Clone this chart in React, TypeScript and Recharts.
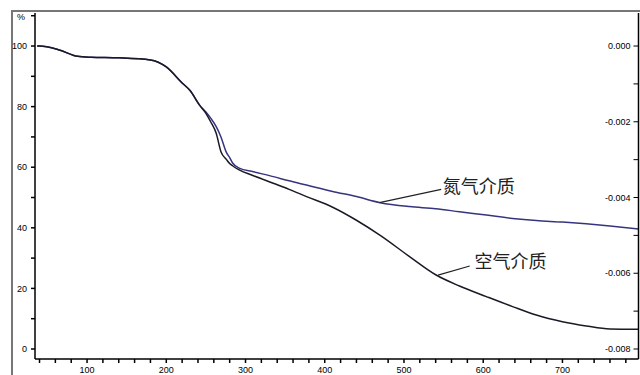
import { LineChart, Line, XAxis, YAxis, ReferenceLine, ReferenceDot } from 'recharts';

// TG curves: mass remaining (%) vs temperature (°C)
const temperature = [37, 40, 65, 88, 105, 140, 180, 200, 220, 230, 242, 250, 256, 263, 269, 276, 280, 284, 292, 310, 335, 355, 377, 410, 440, 470, 507, 540, 570, 604, 637, 667, 700, 730, 760, 796];
const nitrogen = [100, 100, 98.7, 96.6, 96.3, 96.1, 95.4, 93.1, 87.8, 85.3, 80.5, 78.2, 76.2, 73.4, 70.0, 64.8, 63.2, 61.3, 59.7, 58.5, 56.9, 55.5, 54.1, 52.0, 50.3, 48.3, 47.0, 46.3, 45.3, 44.2, 43.1, 42.4, 41.9, 41.3, 40.6, 39.6];
const air = [100, 100, 98.7, 96.6, 96.3, 96.1, 95.4, 93.1, 87.8, 85.3, 80.5, 77.8, 75.0, 71.2, 65.1, 62.5, 61.2, 60.4, 59.1, 57.2, 54.7, 52.7, 50.3, 46.8, 42.5, 37.5, 30.5, 24.5, 20.8, 17.3, 14.0, 11.2, 9.0, 7.6, 6.6, 6.5];

const xTicks = [40, 60, 80, 100, 120, 140, 160, 180, 200, 220, 240, 260, 280, 300, 320, 340, 360, 380, 400, 420, 440, 460, 480, 500, 520, 540, 560, 580, 600, 620, 640, 660, 680, 700, 720, 740, 760, 780];
const leftTicks = [0, 10, 20, 30, 40, 50, 60, 70, 80, 90, 100, 110];
// DTG scale (right): -0.008 lines up with 0 %, 0.000 with 100 %
const rightTicks = [-0.008, -0.007, -0.006, -0.005, -0.004, -0.003, -0.002, -0.001, 0];
const dtgToPct = (v: number) => (v + 0.008) * 12500;
const pctToDtg = (p: number) => p / 12500 - 0.008;

const labelN2 = '氮气介质';
const labelAir = '空气介质';

const data = temperature.map((t, i) => ({ t, nitrogen: nitrogen[i], air: air[i] }));

const FONT = 'Liberation Sans, Arial, sans-serif';
const tickStyle = { fontSize: 9, fill: '#000', fontFamily: FONT };
const pctDomain = [-3.3, 110.9];

// right-hand scale: ticks point into the plot, labels sit inside it
const InwardTick = (props: any) => {
  const { x, y, payload } = props;
  const v = pctToDtg(payload.value);
  const major = Math.round(Math.abs(v) * 1000) % 2 === 0;
  return (
    <g>
      <line x1={x - 5} y1={y} x2={x} y2={y} stroke="#000" strokeWidth={1} />
      {major && (
        <text x={x - 8} y={y} textAnchor="end" dominantBaseline="central" fontSize={9} fontFamily={FONT} fill="#000">
          {(Math.abs(v) < 1e-9 ? 0 : v).toFixed(3)}
        </text>
      )}
    </g>
  );
};

const calloutText = (text: string) => (props: any) => (
  <text
    x={props.cx}
    y={props.cy}
    dominantBaseline="middle"
    fontSize={18}
    fill="#222"
    fontFamily="'Noto Sans CJK SC', sans-serif"
  >
    {text}
  </text>
);

export default function App() {
  return (
    <div style={{ position: 'fixed', left: 0, top: 0, width: 640, height: 375, overflow: 'hidden', background: '#fff' }}>
      <div
        style={{
          position: 'absolute',
          left: 11,
          top: 10,
          right: 0,
          bottom: 0,
          borderLeft: '2px solid #777',
          borderTop: '2px solid #777',
        }}
      />
      <span style={{ position: 'absolute', left: 17, top: 12, fontSize: 9, fontFamily: FONT }}>%</span>
      <LineChart width={640} height={375} data={data} margin={{ top: 13, right: 0, bottom: 0, left: 0 }}>
        <XAxis
          dataKey="t"
          type="number"
          domain={[34.3, 796]}
          ticks={xTicks}
          tickFormatter={(v: number) => (v % 100 === 0 ? String(v) : '')}
          height={16}
          tickSize={4}
          tickMargin={4}
          tick={tickStyle}
          stroke="#000"
          strokeWidth={1.5}
          interval={0}
        />
        <YAxis
          yAxisId="l"
          domain={pctDomain}
          allowDataOverflow
          ticks={leftTicks}
          tickFormatter={(v: number) => (v % 20 === 0 ? String(v) : '')}
          width={35}
          tickSize={4}
          tickMargin={4}
          tick={tickStyle}
          stroke="#000"
          strokeWidth={1.5}
          interval={0}
        />
        <YAxis
          yAxisId="r"
          orientation="right"
          width={1.5}
          domain={pctDomain}
          allowDataOverflow
          ticks={rightTicks.map(dtgToPct)}
          tickLine={false}
          tickSize={0}
          tickMargin={0}
          tick={<InwardTick />}
          stroke="#000"
          strokeWidth={1.5}
          interval={0}
        />
        <Line yAxisId="l" type="monotone" dataKey="nitrogen" stroke="#35357f" strokeWidth={1.5} dot={false} isAnimationActive={false} />
        <Line yAxisId="r" type="monotone" dataKey="air" stroke="#1a1a26" strokeWidth={1.5} dot={false} isAnimationActive={false} />
        <ReferenceLine yAxisId="l" segment={[{ x: 469, y: 48.3 }, { x: 547, y: 52.7 }]} stroke="#222" strokeWidth={1.2} />
        <ReferenceLine yAxisId="l" segment={[{ x: 543, y: 24.4 }, { x: 583, y: 27.4 }]} stroke="#222" strokeWidth={1.2} />
        <ReferenceDot yAxisId="l" x={549} y={53.1} shape={calloutText(labelN2)} />
        <ReferenceDot yAxisId="l" x={589} y={28.4} shape={calloutText(labelAir)} />
      </LineChart>
    </div>
  );
}
